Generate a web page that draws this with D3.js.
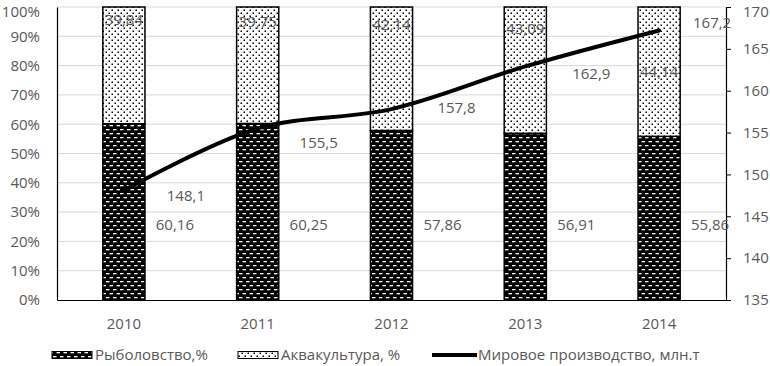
<!DOCTYPE html>
<html>
<head>
<meta charset="utf-8">
<script src="https://cdn.jsdelivr.net/npm/d3@7/dist/d3.min.js"></script>
<style>
  body { margin: 0; background: #fff; }
  svg text { font-family: "Open Sans", "Noto Sans", sans-serif; fill: #595959; }
</style>
</head>
<body>
<svg id="chart" width="770" height="366"></svg>
<script>
// данные
const years = ['2010', '2011', '2012', '2013', '2014'];
const fishing = [60.16, 60.25, 57.86, 56.91, 55.86];      // Рыболовство, %
const aquaculture = [39.84, 39.75, 42.14, 43.09, 44.14];  // Аквакультура, %
const production = [148.1, 155.5, 157.8, 162.9, 167.2];   // Мировое производство, млн.т
const pctTicks = [0, 10, 20, 30, 40, 50, 60, 70, 80, 90, 100];
const prodTicks = [135, 140, 145, 150, 155, 160, 165, 170];

// сдвиги подписей (подобраны по картинке)
const prodLabelShift = [[62, 5], [61, 14], [65, -1], [66, 7], [53, -8]];
const aquaLabelY = [20, 22, 25, 29, 72];

const svg = d3.select('#chart');
const plotLeft = 57, plotRight = 726, plotTop = 7, plotBottom = 300;

const x = d3.scaleBand().domain(years).range([plotLeft, plotRight]).paddingInner(0.685).paddingOuter(0.3425);
const yPct = d3.scaleLinear().domain([0, 100]).range([plotBottom, plotTop]);
const yProd = d3.scaleLinear().domain([135, 170]).range([plotBottom, plotTop]);
const fmt = v => String(v).replace('.', ',');

// паттерны
const defs = svg.append('defs');
const pFish = defs.append('pattern').attr('id', 'fish')
  .attr('patternUnits', 'userSpaceOnUse').attr('width', 7).attr('height', 8);
pFish.append('rect').attr('width', 7).attr('height', 8).attr('fill', '#000');
[[1, 1], [4.5, 5], [-2.5, 5]].forEach(([px, py]) => {
  pFish.append('rect').attr('x', px).attr('y', py).attr('width', 3.5).attr('height', 1.3).attr('fill', '#fff');
});
const pAqua = defs.append('pattern').attr('id', 'aqua')
  .attr('patternUnits', 'userSpaceOnUse').attr('width', 6).attr('height', 6);
pAqua.append('rect').attr('width', 6).attr('height', 6).attr('fill', '#fff');
[[0.5, 0.5], [3.5, 3.5]].forEach(([px, py]) => {
  pAqua.append('rect').attr('x', px).attr('y', py).attr('width', 1.5).attr('height', 1.5).attr('fill', '#000');
});

// сетка
svg.append('g')
  .selectAll('line')
  .data(pctTicks.slice(1))
  .join('line')
  .attr('x1', plotLeft).attr('x2', plotRight)
  .attr('y1', d => yPct(d)).attr('y2', d => yPct(d))
  .attr('stroke', '#d9d9d9').attr('stroke-width', 1);

// левая ось
const gLeft = svg.append('g').attr('transform', `translate(${plotLeft},0)`)
  .call(d3.axisLeft(yPct).tickValues(pctTicks).tickFormat(d => d + '%').tickSize(0).tickPadding(17));
gLeft.select('.domain').attr('stroke', '#000').attr('stroke-width', 1.2);
gLeft.selectAll('text').attr('font-size', 15).attr('fill', '#595959').attr('font-family', null)
  .attr('dy', d => d === 100 ? '0.6em' : '0.32em');

// столбцы
const bars = svg.append('g');
bars.selectAll('rect.fish')
  .data(years)
  .join('rect')
  .attr('class', 'fish')
  .attr('x', d => x(d)).attr('width', x.bandwidth())
  .attr('y', (d, i) => yPct(fishing[i]))
  .attr('height', (d, i) => yPct(0) - yPct(fishing[i]))
  .attr('fill', 'url(#fish)').attr('stroke', '#000').attr('stroke-width', 1.5);
bars.selectAll('rect.aqua')
  .data(years)
  .join('rect')
  .attr('class', 'aqua')
  .attr('x', d => x(d)).attr('width', x.bandwidth())
  .attr('y', (d, i) => yPct(fishing[i] + aquaculture[i]))
  .attr('height', (d, i) => yPct(fishing[i]) - yPct(fishing[i] + aquaculture[i]))
  .attr('fill', 'url(#aqua)').attr('stroke', '#000').attr('stroke-width', 1.5);

// нижняя ось
const gBottom = svg.append('g').attr('transform', `translate(0,${plotBottom})`)
  .call(d3.axisBottom(x).tickSize(0).tickPadding(18));
gBottom.select('.domain').attr('stroke', '#000').attr('stroke-width', 1.2);
gBottom.selectAll('text').attr('font-size', 15).attr('fill', '#595959').attr('font-family', null);

// правая ось
const gRight = svg.append('g').attr('transform', `translate(${plotRight},0)`)
  .call(d3.axisRight(yProd).tickValues(prodTicks).tickSize(5).tickPadding(12));
gRight.select('.domain').attr('stroke', '#000').attr('stroke-width', 1.2);
gRight.selectAll('.tick line').attr('stroke', '#000');
gRight.selectAll('text').attr('font-size', 15).attr('fill', '#595959').attr('font-family', null)
  .attr('dy', d => d === 170 ? '0.6em' : '0.32em');

// линия
const line = d3.line()
  .x((d, i) => x(years[i]) + x.bandwidth() / 2)
  .y(d => yProd(d))
  .curve(d3.curveCatmullRom.alpha(0.5));
svg.append('path')
  .datum(production)
  .attr('d', line)
  .attr('fill', 'none').attr('stroke', '#000').attr('stroke-width', 4).attr('stroke-linecap', 'round');

// подписи
const labels = svg.append('g').attr('font-size', 15).attr('text-anchor', 'middle');
labels.selectAll('text.fl')
  .data(fishing)
  .join('text')
  .attr('class', 'fl')
  .attr('x', (d, i) => x(years[i]) + x.bandwidth() / 2 + 51)
  .attr('y', yPct(25.6))
  .attr('dy', '0.35em')
  .text(d => fmt(d));
labels.selectAll('text.al')
  .data(aquaculture)
  .join('text')
  .attr('class', 'al')
  .attr('x', (d, i) => x(years[i]) + x.bandwidth() / 2)
  .attr('y', (d, i) => aquaLabelY[i])
  .attr('dy', '0.35em')
  .text(d => fmt(d));
labels.selectAll('text.pl')
  .data(production)
  .join('text')
  .attr('class', 'pl')
  .attr('x', (d, i) => x(years[i]) + x.bandwidth() / 2 + prodLabelShift[i][0])
  .attr('y', (d, i) => yProd(d) + prodLabelShift[i][1])
  .attr('dy', '0.35em')
  .text(d => fmt(d));

// легенда
const legend = svg.append('g').attr('font-size', 15);
const legendItems = [
  {name: 'Рыболовство,%', type: 'fish', x: 52},
  {name: 'Аквакультура, %', type: 'aqua', x: 238},
  {name: 'Мировое производство, млн.т', type: 'line', x: 432}
];
legendItems.forEach(item => {
  const g = legend.append('g').attr('transform', `translate(${item.x},355)`);
  if (item.type === 'line') {
    g.append('line').attr('x1', 0).attr('x2', 45).attr('stroke', '#000').attr('stroke-width', 4);
    g.append('text').attr('x', 46).attr('dy', '0.35em').text(item.name);
  } else {
    g.append('rect').attr('x', 0).attr('y', -3.5).attr('width', 40).attr('height', 7)
      .attr('fill', `url(#${item.type})`).attr('stroke', '#000').attr('stroke-width', 1);
    g.append('text').attr('x', 43).attr('dy', '0.35em').text(item.name);
  }
});
</script>
</body>
</html>
